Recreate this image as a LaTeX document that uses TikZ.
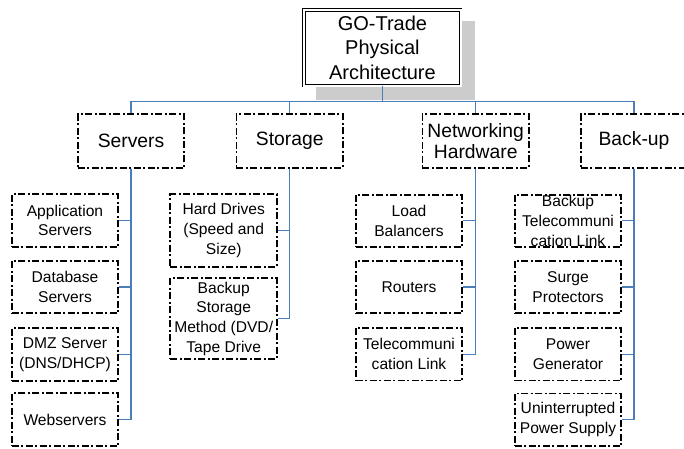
\documentclass[tikz,border=0pt]{standalone}
\usepackage{fontspec}
\setmainfont{Liberation Sans}
\definecolor{linkblue}{HTML}{4A7EBB}
\definecolor{shadowgray}{HTML}{CCCCCC}
\tikzset{
  dashbox/.style={draw=black, line width=1.9pt,
    dash pattern=on 7pt off 2.5pt on 2pt off 2.5pt,
    inner sep=0pt, align=center},
  headbox/.style={dashbox, minimum width=106.5pt, minimum height=53.5pt,
    font=\fontsize{19.3}{21.7}\selectfont},
  leafbox/.style={dashbox, minimum width=106.6pt, minimum height=52.5pt,
    font=\fontsize{15.6}{19.7}\selectfont},
  titlebox/.style={draw=black, double, double distance=2pt, line width=0.8pt,
    minimum width=156.5pt, minimum height=75.9pt, inner sep=0pt, align=center,
    font=\fontsize{20}{24.3}\selectfont},
  conn/.style={draw=linkblue, line width=1.1pt}
}
\begin{document}
\begin{tikzpicture}[x=1pt,y=-1pt]
\useasboundingbox (0,0) rectangle (684,448);
\clip (0,0) rectangle (684,448);

% drop shadow behind the title
\fill[shadowgray] (315.5,21) rectangle (475,100);

% title
\node[titlebox, fill=white] (title) at (382.4,47.7) {GO-Trade\\Physical\\Architecture};

% second level
\node[headbox] (srv) at (131,141) {Servers};
\node[headbox] (sto) at (289.7,141) {Storage};
\node[headbox] (net) at (475.7,141) {Networking\\Hardware};
\node[headbox] (bak) at (634,141) {Back-up};

% servers
\node[leafbox] (s1) at (65,220.5) {Application\\Servers};
\node[leafbox] (s2) at (65,287) {Database\\Servers};
\node[leafbox] (s3) at (65,354.5) {DMZ Server\\(DNS/DHCP)};
\node[leafbox] (s4) at (65,419.5) {Webservers};

% storage
\node[leafbox, minimum height=72.4pt] (t1) at (223.7,230.5) {Hard Drives\\(Speed and\\Size)};
\node[leafbox, minimum height=80.7pt] (t2) at (223.7,318.7) {Backup\\Storage\\Method (DVD/\\Tape Drive};

% networking
\node[leafbox] (n1) at (409,220.8) {Load\\Balancers};
\node[leafbox] (n2) at (409,287) {Routers};
\node[leafbox] (n3) at (409,354.2) {Telecommuni\\cation Link};

% back-up
\node[leafbox] (b1) at (568,220.8) {Backup\\Telecommuni\\cation Link};
\node[leafbox] (b2) at (568,287) {Surge\\Protectors};
\node[leafbox] (b3) at (568,354.2) {Power\\Generator};
\node[leafbox] (b4) at (568,419.7) {Uninterrupted\\Power Supply};

% connectors
\coordinate (bus) at (382.4,101.5);
\draw[conn] (title.south) -- (bus);
\draw[conn] (srv.north) |- (bus) -| (bak.north);
\draw[conn] (sto.north) |- (bus) -| (net.north);

\foreach \c in {s1,s2,s3,s4} \draw[conn] (srv.south) |- (\c.east);
\foreach \c in {t1,t2} \draw[conn] (sto.south) |- (\c.east);
\foreach \c in {n1,n2,n3} \draw[conn] (net.south) |- (\c.east);
\foreach \c in {b1,b2,b3,b4} \draw[conn] (bak.south) |- (\c.east);
\end{tikzpicture}
\end{document}
